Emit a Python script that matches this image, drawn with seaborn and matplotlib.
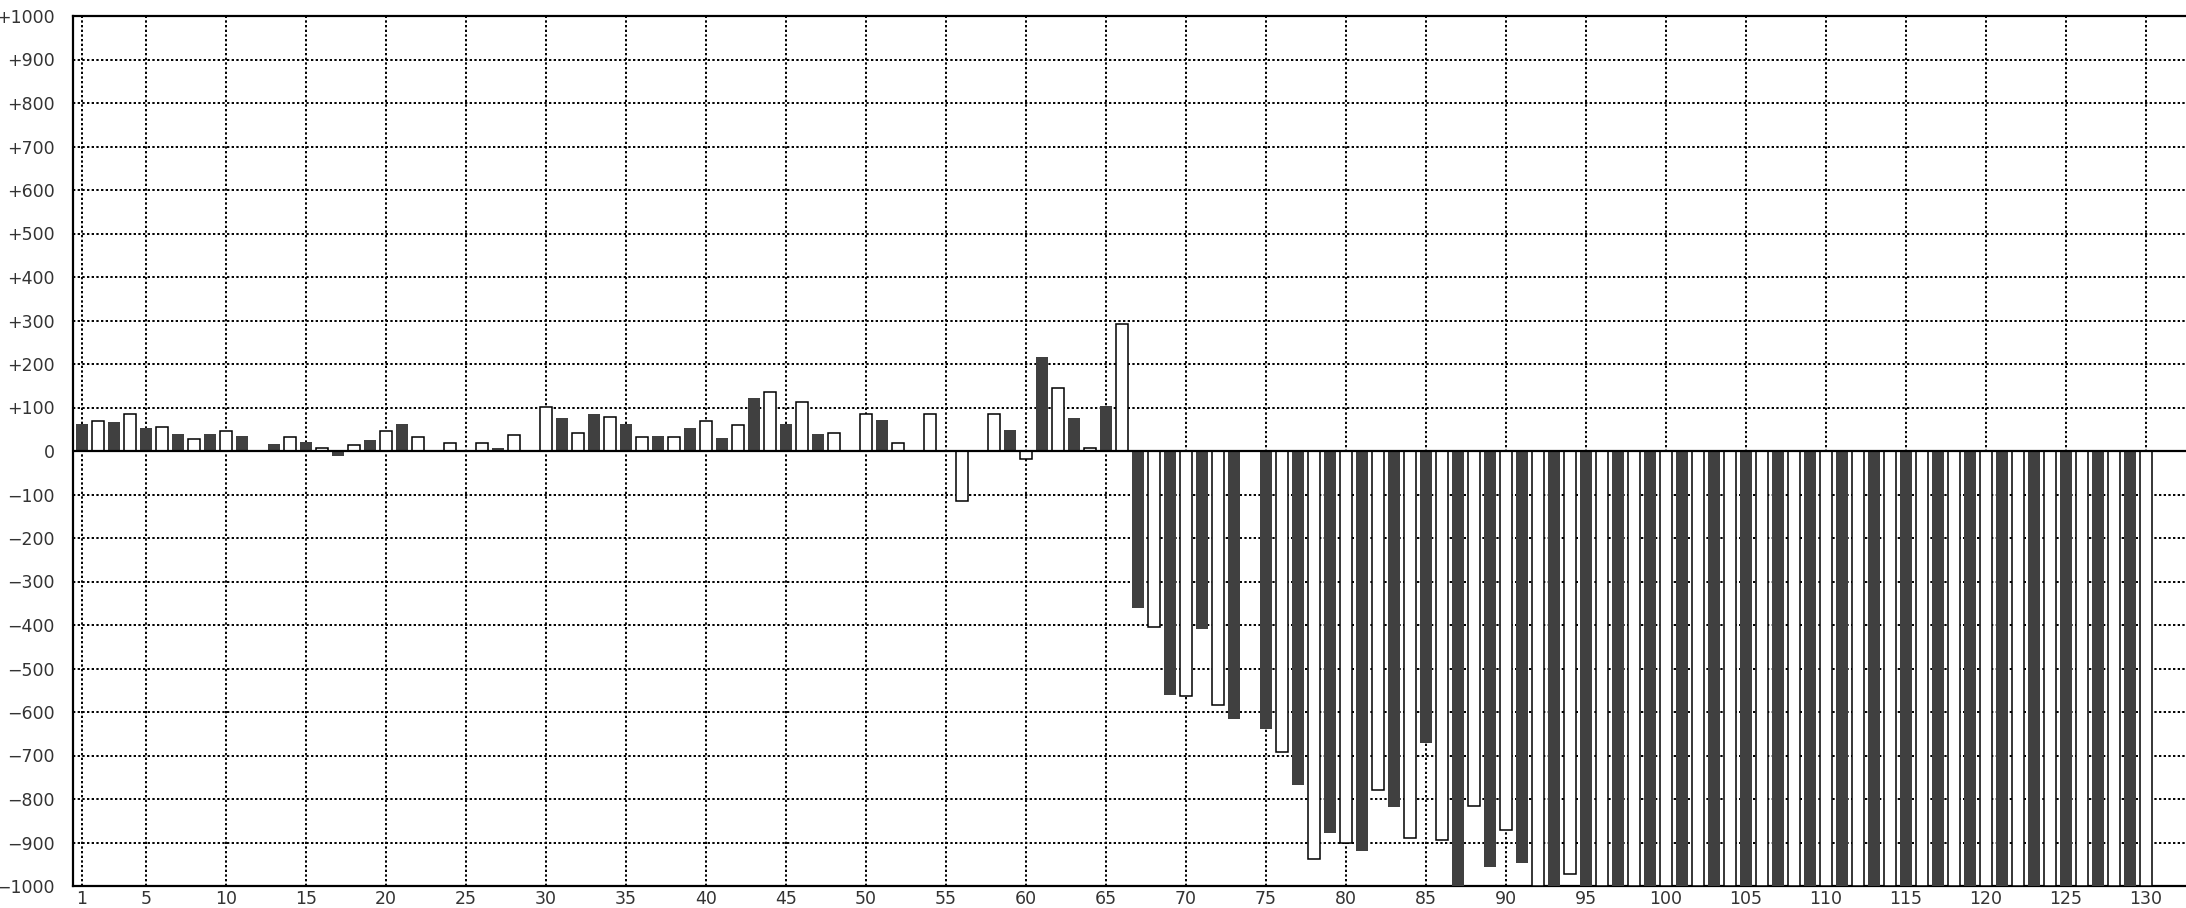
import pandas as pd
import matplotlib
matplotlib.use('Agg')
import matplotlib.pyplot as plt
import seaborn as sns

positions = list(range(1, 131))

values = [
    62, 70, 67, 84, 53, 56, 39, 28, 39, 47,
    34, 0, 16, 33, 20, 6, -12, 14, 25, 47,
    62, 33, 0, 18, 0, 18, 6, 37, 0, 102,
    76, 42, 85, 79, 62, 33, 34, 33, 53, 70,
    29, 60, 122, 136, 62, 112, 39, 42, 0, 84,
    71, 19, 0, 84, 0, -116, 0, 84, 48, -19,
    215, 144, 76, 6, 104, 293, -360, -404, -562, -564,
    -410, -583, -617, 0, -640, -693, -768, -937, -878, -900,
    -920, -780, -819, -889, -672, -894, -1000, -817, -956, -872,
    -947, -1000, -1000, -972, -1000, -1000, -1000, -1000, -1000, -1000,
] + [-1000] * 30

# odd bars are dark, even bars are white
kinds = ['dark' if p % 2 == 1 else 'light' for p in positions]

x_ticks = [1] + list(range(5, 131, 5))
y_ticks = list(range(-1000, 1001, 100))


def y_label(v):
    if v > 0:
        return '+%d' % v
    if v < 0:
        return '\u2212%d' % abs(v)
    return '0'


def draw_chart(df):
    sns.set_style('white')
    plt.rcParams['font.family'] = ['DejaVu Sans']

    fig = plt.figure(figsize=(21.86, 9.08), dpi=100)
    ax = fig.add_axes([72.5 / 2186, 22 / 908, 1 - 72.5 / 2186, 870 / 908])

    sns.barplot(data=df, x='pos', y='value', hue='kind',
                hue_order=['dark', 'light'],
                palette={'dark': '#404040', 'light': 'white'},
                native_scale=True, dodge=False, width=0.75,
                legend=False, ax=ax, zorder=3)

    # white bars get a black outline
    for bar in ax.containers[1]:
        bar.set_edgecolor('black')
        bar.set_linewidth(1.1)
    for bar in ax.containers[0]:
        bar.set_linewidth(0)

    ax.axhline(0, color='black', linewidth=1.6, zorder=4)

    ax.set_xlim(0.41, 132.5)
    ax.set_ylim(-1000, 1000)
    ax.set_xticks(x_ticks)
    ax.set_xticklabels([str(t) for t in x_ticks])
    ax.set_yticks(y_ticks)
    ax.set_yticklabels([y_label(v) for v in y_ticks])

    ax.set_axisbelow(True)
    ax.grid(True, color='black', linestyle=(0, (1.2, 1.2)), linewidth=1.4)

    ax.tick_params(axis='both', length=0, labelsize=12.5, colors='#333333')
    ax.tick_params(axis='y', pad=13)
    ax.tick_params(axis='x', pad=3)

    for side in ['left', 'top', 'bottom']:
        ax.spines[side].set_color('black')
        ax.spines[side].set_linewidth(1.6)
    ax.spines['right'].set_visible(False)

    ax.set_xlabel('')
    ax.set_ylabel('')

    fig.savefig('out.png', dpi=100)


if __name__ == '__main__':
    df = pd.DataFrame({'pos': positions, 'value': values, 'kind': kinds})
    draw_chart(df)
